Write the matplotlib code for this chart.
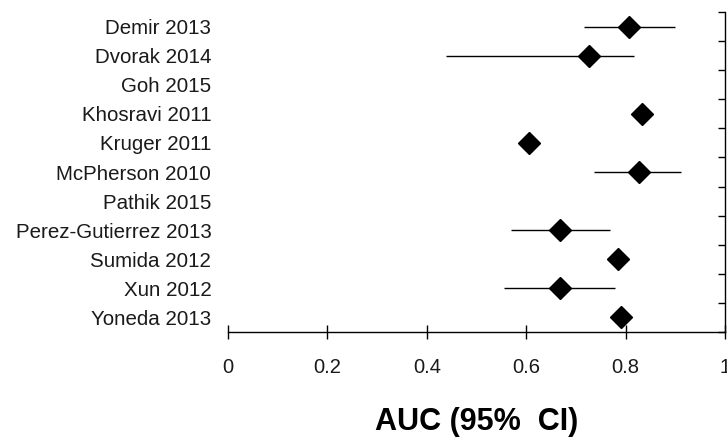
import matplotlib.pyplot as plt
import numpy as np

# datos
estudios = ["Demir 2013", "Dvorak 2014", "Goh 2015", "Khosravi 2011", "Kruger 2011",
            "McPherson 2010", "Pathik 2015", "Perez-Gutierrez 2013", "Sumida 2012",
            "Xun 2012", "Yoneda 2013"]
auc = [0.807, 0.726, np.nan, 0.834, 0.606, 0.826, np.nan, 0.668, 0.784, 0.668, 0.791]
ic_inf = [0.717, 0.438, np.nan, np.nan, np.nan, 0.737, np.nan, 0.569, np.nan, 0.555, np.nan]
ic_sup = [0.900, 0.817, np.nan, np.nan, np.nan, 0.911, np.nan, 0.769, np.nan, 0.779, np.nan]
xticks = [0, 0.2, 0.4, 0.6, 0.8, 1]
xticklabels = ["0", "0.2", "0.4", "0.6", "0.8", "1"]

plt.rcParams['font.family'] = ['Liberation Sans', 'DejaVu Sans']

fig = plt.figure(figsize=(7.27, 4.41), dpi=100)
ax = fig.add_axes([228/727, 1 - 332/441, (725 - 228)/727, 320/441])

filas = np.arange(len(estudios))
ax.hlines(filas, ic_inf, ic_sup, color='black', linewidth=1)
ax.plot(auc, filas, linestyle='none', marker='D', markersize=11, color='black')

ax.set_xlim(0, 1)
ax.set_ylim(len(estudios) - 0.5, -0.5)

for lado in ['top', 'left']:
    ax.spines[lado].set_visible(False)
ax.spines['bottom'].set_linewidth(1)
ax.spines['right'].set_linewidth(1)

ax.set_xticks(xticks)
ax.set_xticklabels(xticklabels, fontsize=14.5, color='#1a1a1a')
ax.tick_params(axis='x', direction='inout', length=10, width=1, pad=14)

ax.set_yticks(filas)
ax.set_yticklabels(estudios, fontsize=14.8, color='#1a1a1a')
ax.set_yticks(np.arange(-0.5, len(estudios)), minor=True)
ax.tick_params(axis='y', which='major', left=True, right=False, length=0, pad=12)
ax.tick_params(axis='y', which='minor', left=False, right=True, direction='in', length=5, width=1)

ax.set_xlabel("AUC (95%  CI)", fontsize=22, fontweight='bold', labelpad=21)

fig.savefig("out.png", dpi=100)
